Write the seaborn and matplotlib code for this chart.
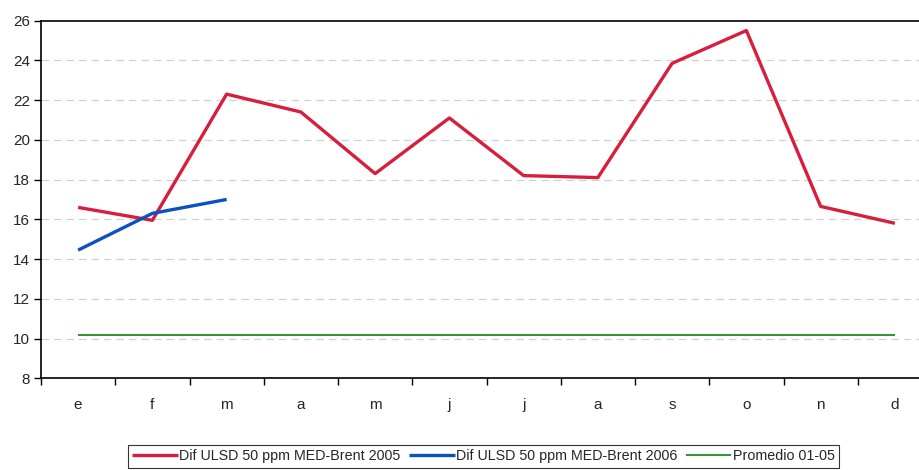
import numpy as np
import pandas as pd
import matplotlib
matplotlib.use("Agg")
import matplotlib.pyplot as plt
import seaborn as sns

months = ["e", "f", "m", "a", "m", "j", "j", "a", "s", "o", "n", "d"]
serie_2005 = [16.6, 15.95, 22.3, 21.4, 18.3, 21.1, 18.2, 18.1, 23.85, 25.5, 16.65, 15.8]
serie_2006 = [14.45, 16.3, 17.0]
promedio = [10.2] * 12

lab05 = "Dif ULSD 50 ppm MED-Brent 2005"
lab06 = "Dif ULSD 50 ppm MED-Brent 2006"
labp = "Promedio 01-05"

sns.set_style("white")
plt.rcParams['font.family'] = ['Liberation Sans', 'DejaVu Sans']

df = pd.concat([
    pd.DataFrame({"x": range(12), "y": serie_2005, "s": lab05}),
    pd.DataFrame({"x": range(3), "y": serie_2006, "s": lab06}),
    pd.DataFrame({"x": range(12), "y": promedio, "s": labp}),
])

fig = plt.figure(figsize=(9.19, 4.70), dpi=100)
ax = fig.add_axes([41/919, 1-378.3/470, (932-41)/919, (378.3-20.6)/470])

palette = {lab05: "#D81E3C", lab06: "#0A52C2", labp: "#1E8C1E"}
sizes = {lab05: 2.4, lab06: 2.4, labp: 1.3}
for name in [lab05, lab06, labp]:
    sub = df[df.s == name]
    sns.lineplot(data=sub, x="x", y="y", ax=ax, color=palette[name],
                 linewidth=sizes[name], label=name, legend=False,
                 solid_capstyle="butt")

ax.set_xlim(-0.5, 11.5)
ax.set_ylim(8, 26)
ax.set_yticks(np.arange(8, 27, 2))
ax.set_yticklabels([str(v) for v in range(8, 27, 2)], fontsize=11)
ax.set_xticks(range(12))
ax.set_xticklabels(months, fontsize=11)
ax.set_xticks(np.arange(-0.5, 12, 1), minor=True)
ax.tick_params(axis="x", which="major", bottom=True, length=0, pad=14)
ax.tick_params(axis="x", which="minor", bottom=True, length=5, width=1, color="black", direction="out")
ax.tick_params(axis="y", left=True, length=5, width=1, color="black", direction="out", pad=3)
for v in range(10, 26, 2):
    ax.axhline(v, color="#CDD2D2", linestyle=(0, (6, 4)), linewidth=0.9, zorder=0)
ax.set_xlabel("")
ax.set_ylabel("")
for s in ["left", "bottom", "top"]:
    ax.spines[s].set_color("black")
    ax.spines[s].set_linewidth(1.2)
ax.spines["right"].set_visible(False)

handles, labels = ax.get_legend_handles_labels()
leg = fig.legend(handles, labels, loc="upper left", bbox_to_anchor=(128/919, 1-445/470),
                 ncol=3, frameon=True, fontsize=10.25, handlelength=3.2,
                 handletextpad=0.1, columnspacing=0.6, borderpad=0.3,
                 borderaxespad=0, fancybox=False, edgecolor="black")
leg.get_frame().set_linewidth(0.8)

fig.savefig("out.png", dpi=100)
